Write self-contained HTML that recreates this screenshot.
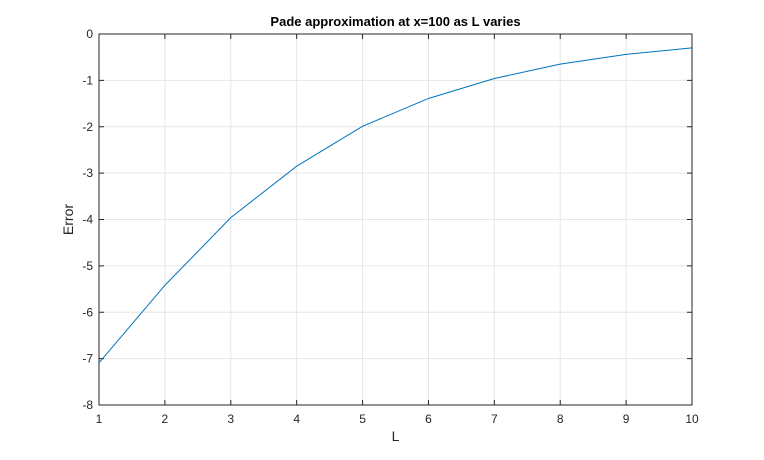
<!DOCTYPE html>
<html><head><meta charset="utf-8"><style>
body{margin:0;background:#fff;}
svg text{font-family:"Liberation Sans",sans-serif;}
</style></head><body>
<svg id="chart" width="764" height="455"></svg>
<script>
const categories=[1,2,3,4,5,6,7,8,9,10];
const errorValues=[-7.09,-5.42,-3.96,-2.85,-1.99,-1.39,-0.96,-0.65,-0.44,-0.3];
const xTicks=[1,2,3,4,5,6,7,8,9,10];
const yTicks=[0,-1,-2,-3,-4,-5,-6,-7,-8];
const L=99,R=692,T=34,B=405;
const xs=v=>L+(v-1)/9*(R-L);
const ys=v=>T+(0-v)/8*(B-T);
const svg=document.getElementById('chart');
const NS='http://www.w3.org/2000/svg';
function mk(tag,attrs,parent){const e=document.createElementNS(NS,tag);for(const k in attrs)e.setAttribute(k,attrs[k]);(parent||svg).appendChild(e);return e;}
const bg=mk('rect',{x:L,y:T,width:R-L,height:B-T,fill:'#fff'});


xTicks.forEach(t=>{
 const g=mk('line',{x1:xs(t),x2:xs(t),y1:T,y2:B,stroke:'#e6e6e6','stroke-width':1});
 
 
 mk('line',{x1:xs(t),x2:xs(t),y1:B,y2:B-5,stroke:'#262626'});
 mk('line',{x1:xs(t),x2:xs(t),y1:T,y2:T+5,stroke:'#262626'});
 const tx=mk('text',{x:xs(t),y:B+18,'text-anchor':'middle','font-size':12,fill:'#262626'});
 tx.textContent=t;
 
 
});
yTicks.forEach(t=>{
 const g=mk('line',{x1:L,x2:R,y1:ys(t),y2:ys(t),stroke:'#e6e6e6','stroke-width':1});
 
 
 mk('line',{x1:L,x2:L+5,y1:ys(t),y2:ys(t),stroke:'#262626'});
 mk('line',{x1:R,x2:R-5,y1:ys(t),y2:ys(t),stroke:'#262626'});
 const tx=mk('text',{x:L-6,y:ys(t)+4,'text-anchor':'end','font-size':12,fill:'#262626'});
 tx.textContent=t;
 
 
});
const box=mk('rect',{x:L,y:T,width:R-L,height:B-T,fill:'none',stroke:'#262626','stroke-width':1});


const pts=categories.map((c,i)=>xs(c)+','+ys(errorValues[i])).join(' ');
const line=mk('polyline',{points:pts,fill:'none',stroke:'#0072bd','stroke-width':1});


const title=mk('text',{x:(L+R)/2,y:26,'text-anchor':'middle','font-size':13,'font-weight':'bold',fill:'#000'});
title.textContent='Pade approximation at x=100 as L varies';


const xl=mk('text',{x:(L+R)/2,y:441,'text-anchor':'middle','font-size':14,fill:'#262626'});
xl.textContent='L';


const yl=mk('text',{x:0,y:0,'text-anchor':'middle','font-size':14,fill:'#262626',transform:'translate(73,'+((T+B)/2)+') rotate(-90)'});
yl.textContent='Error';


</script>
</body></html>
